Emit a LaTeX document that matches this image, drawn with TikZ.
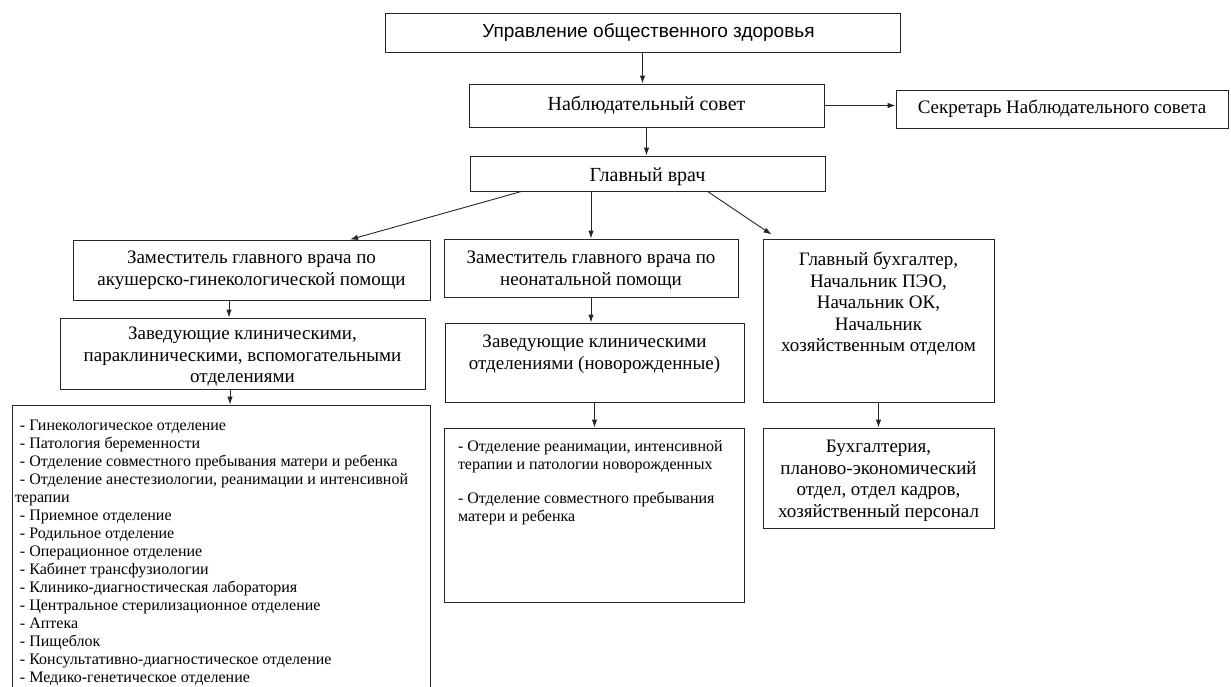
\documentclass[tikz,border=0pt]{standalone}
\usepackage{fontspec}
\setmainfont{Liberation Serif}
\newfontfamily\sansfont{Liberation Sans}
\usetikzlibrary{arrows.meta}

\begin{document}
\begin{tikzpicture}[x=1pt, y=-1pt,
	box/.style={draw=black!85, line width=0.9pt, fill=white, align=center, inner sep=0pt, font=\fontsize{19}{21.5}\selectfont},
	big/.style={font=\fontsize{20}{22}\selectfont},
	lst/.style={font=\fontsize{16}{18}\selectfont},
	arr/.style={-{Latex[length=8pt,width=5.5pt]}, line width=0.9pt, draw=black!85}]

	\useasboundingbox (0,0) rectangle (1231,686);
	\clip (0,0) rectangle (1231,686);

	\node[box, minimum width=515, minimum height=39, font=\sansfont\fontsize{19}{21.5}\selectfont] (upr) at (642.5,32.5) {\hspace*{12pt}Управление общественного здоровья};
	\node[box, big, minimum width=355, minimum height=43] (nab) at (646.5,105.5) {Наблюдательный совет};
	\node[box, minimum width=332, minimum height=38] (sek) at (1062,109) {Секретарь Наблюдательного совета};
	\node[box, big, minimum width=355, minimum height=35] (gv) at (647.5,173.5) {\rule{0pt}{20pt}Главный врач};

	% left column
	\node[box, minimum width=357, minimum height=60] (zam1) at (251.5,270) {Заместитель главного врача по\\акушерско-гинекологической помощи};
	\node[box, minimum width=365, minimum height=71] (zav1) at (242.5,353.5) {\rule{0pt}{19pt}Заведующие клиническими,\\параклиническими, вспомогательными\\отделениями};
	\node[box, lst] (lst1) at (221,555) {\begin{minipage}[c][300pt][t]{418pt}\raggedright\leftskip=8pt\vspace*{15pt}%
		- Гинекологическое отделение\\
		- Патология беременности\\
		- Отделение совместного пребывания матери и ребенка\\
		- Отделение анестезиологии, реанимации и интенсивной\\
		\hspace*{-5pt}терапии\\
		- Приемное отделение\\
		- Родильное отделение\\
		- Операционное отделение\\
		- Кабинет трансфузиологии\\
		- Клинико-диагностическая лаборатория\\
		- Центральное стерилизационное отделение\\
		- Аптека\\
		- Пищеблок\\
		- Консультативно-диагностическое отделение\\
		- Медико-генетическое отделение\end{minipage}};

	% middle column
	\node[box, minimum width=294, minimum height=58] (zam2) at (591,268) {\rule{0pt}{17pt}Заместитель главного врача по\\неонатальной помощи};
	\node[box] (zav2) at (594.5,362.5) {\begin{minipage}[c][79pt][t]{299pt}\centering\vspace*{12pt}%
		Заведующие клиническими\\отделениями (новорожденные)\end{minipage}};
	\node[box, lst] (lst2) at (594,515) {\begin{minipage}[c][174pt][t]{300pt}\raggedright\leftskip=14pt\vspace*{13pt}%
		- Отделение реанимации, интенсивной\\терапии и патологии новорожденных\\[16pt]
		- Отделение совместного пребывания\\матери и ребенка\end{minipage}};

	% right column
	\node[box] (buh1) at (878.5,320.5) {\begin{minipage}[c][163pt][t]{231pt}\centering\vspace*{13pt}%
		Главный бухгалтер,\\Начальник ПЭО,\\Начальник ОК,\\Начальник\\хозяйственным отделом\end{minipage}};
	\node[box, minimum width=231, minimum height=100] (buh2) at (878.5,478) {\rule{0pt}{18pt}Бухгалтерия,\\планово-экономический\\отдел, отдел кадров,\\хозяйственный персонал};

	\draw[arr] (upr.south) -- (upr.south |- nab.north);
	\draw[arr] (nab.east) -- (nab.east -| sek.west);
	\draw[arr] (nab.south) -- (nab.south |- gv.north);
	\draw[arr] ([xshift=52pt]gv.south west) -- ([xshift=98.5pt]zam1.north);
	\draw[arr] (gv.south -| zam2.north) -- (zam2.north);
	\draw[arr] ([xshift=238pt]gv.south west) -- ([xshift=9pt, yshift=4pt]buh1.north west);
	\draw[arr] ([xshift=-22.5pt]zam1.south) -- ([xshift=-22.5pt]zam1.south |- zav1.north);
	\draw[arr] ([xshift=-12.5pt]zav1.south) -- ([xshift=-12.5pt]zav1.south |- lst1.north);
	\draw[arr] (zam2.south) -- (zam2.south |- zav2.north);
	\draw[arr] (zav2.south) -- (zav2.south |- lst2.north);
	\draw[arr] (buh1.south) -- (buh2.north);

\end{tikzpicture}
\end{document}
